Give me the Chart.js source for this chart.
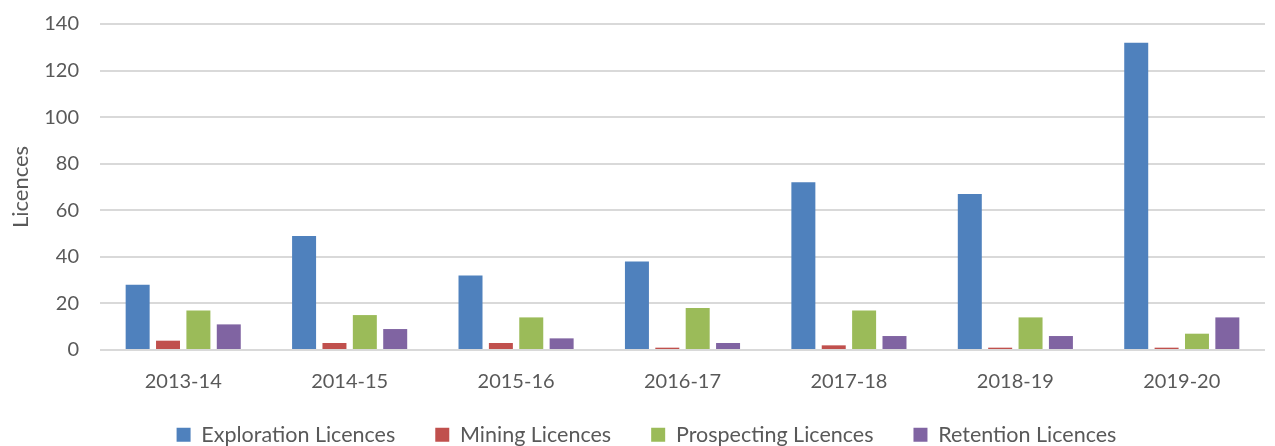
<!DOCTYPE html>
<html>
<head>
<meta charset="utf-8">
<script src="https://cdn.jsdelivr.net/npm/chart.js@4/dist/chart.umd.min.js"></script>
<style>
html,body{margin:0;padding:0;background:#fff;}
#wrap{width:1275px;height:446px;position:relative;}
</style>
</head>
<body>
<div id="wrap"><canvas id="c" width="1275" height="446"></canvas></div>
<script>
const categories = ["2013-14","2014-15","2015-16","2016-17","2017-18","2018-19","2019-20"];
const exploration = [28, 49, 32, 38, 72, 67, 132];
const mining = [4, 3, 3, 1, 2, 1, 1];
const prospecting = [17, 15, 14, 18, 17, 14, 7];
const retention = [11, 9, 5, 3, 6, 6, 14];
const seriesNames = ["Exploration Licences","Mining Licences","Prospecting Licences","Retention Licences"];
const colors = ["#4f81bd","#c0504d","#9bbb59","#8064a2"];
const yTicks = [0, 20, 40, 60, 80, 100, 120, 140];
const yTitle = "Licences";

const FONT = "Lato, 'Open Sans', sans-serif";
const TXT = "#595959";

const ds = [exploration, mining, prospecting, retention].map((d,i)=>({
  label: seriesNames[i],
  data: d,
  backgroundColor: colors[i],
  borderWidth: 0,
  categoryPercentage: 0.73,
  barPercentage: 0.79
}));

// Compact legend vertically while keeping wide horizontal spacing between items
const legendTweak = {
  id: 'legendTweak',
  beforeUpdate(chart) {
    const lg = chart.legend;
    if (lg && !lg._patched) {
      const orig = lg.fit;
      lg.fit = function() { orig.call(this); this.height = 50; };
      lg._patched = true;
    }
  },
  afterLayout(chart) {
    const lg = chart.legend;
    if (lg) {
      lg.top -= 12; lg.bottom = chart.height;
      lg.left += 14; lg.right += 14;
    }
  }
};

new Chart(document.getElementById('c'), {
  type: 'bar',
  data: { labels: categories, datasets: ds },
  plugins: [legendTweak],
  options: {
    responsive: false,
    animation: false,
    devicePixelRatio: 1,
    layout: { padding: { left: 0, right: 10, top: 24, bottom: 0 } },
    plugins: {
      tooltip: { enabled: false },
      legend: {
        position: 'bottom',
        labels: {
          boxWidth: 14, boxHeight: 14, padding: 40,
          color: TXT, font: { family: FONT, size: 21.5 }
        }
      }
    },
    scales: {
      x: {
        grid: { display: false },
        border: { display: false },
        ticks: { color: TXT, font: { family: FONT, size: 20 }, padding: 12, maxRotation: 0 },
        afterFit: (s) => { s.height = 46; }
      },
      y: {
        min: yTicks[0], max: yTicks[yTicks.length-1],
        afterBuildTicks: (s) => { s.ticks = yTicks.map(v => ({ value: v })); },
        ticks: { color: TXT, font: { family: FONT, size: 20 }, padding: 21 },
        grid: { color: "#d9d9d9", lineWidth: 2, drawTicks: false },
        border: { display: false },
        title: { display: true, text: yTitle, color: TXT, font: { family: FONT, size: 22 }, padding: { top: 8, bottom: 0 } },
        afterFit: (s) => { s.width = 100; s.paddingTop = 0; s.paddingBottom = 0; }
      }
    }
  }
});
</script>
</body>
</html>
